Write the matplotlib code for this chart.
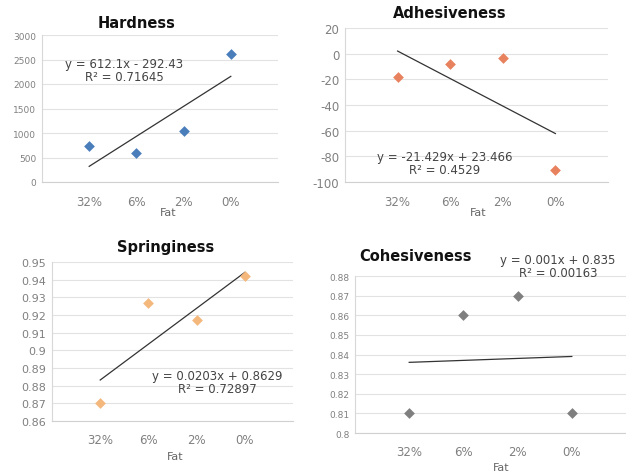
import matplotlib
matplotlib.use("Agg")
import matplotlib.pyplot as plt
import numpy as np

categories = ["32%", "6%", "2%", "0%"]
x_pos = [1, 2, 3, 4]

hardness = [730, 590, 1050, 2620]
adhesiveness = [-18, -8, -3, -91]
springiness = [0.870, 0.927, 0.917, 0.942]
cohesiveness = [0.81, 0.86, 0.87, 0.81]

hard_fit = (612.1, -292.43)
adh_fit = (-21.429, 23.466)
spr_fit = (0.0203, 0.8629)
coh_fit = (0.001, 0.835)

hard_eq = ["y = 612.1x - 292.43", "R² = 0.71645"]
adh_eq = ["y = -21.429x + 23.466", "R² = 0.4529"]
spr_eq = ["y = 0.0203x + 0.8629", "R² = 0.72897"]
coh_eq = ["y = 0.001x + 0.835", "R² = 0.00163"]

plt.rcParams['font.family'] = ['DejaVu Sans']
fig = plt.figure(figsize=(6.26, 4.77), dpi=100)
W, H = 626, 477

def ax_px(l, r, t, b):
    return fig.add_axes([l / W, 1 - b / H, (r - l) / W, (b - t) / H])

def style(ax, ylim, yticks, ylabels, fs_y, color, vals, fit, title, title_xy, eq, eq_xy, fat_xy, tick_fs=8.5):
    ax.set_xlim(0, 5)
    ax.set_ylim(*ylim)
    ax.set_yticks(yticks)
    ax.set_yticklabels(ylabels, fontsize=fs_y, color="#808080")
    ax.set_xticks(x_pos)
    ax.set_xticklabels(categories, fontsize=tick_fs, color="#808080")
    ax.tick_params(axis="x", length=0, pad=9)
    ax.tick_params(axis="y", length=0, pad=4)
    ax.grid(axis="y", color="#e2e2e2", linewidth=0.8)
    ax.set_axisbelow(True)
    for s in ["top", "right"]:
        ax.spines[s].set_visible(False)
    ax.spines["left"].set_color("#d8d8d8")
    ax.spines["bottom"].set_color("#d0d0d0")
    ax.scatter(x_pos, vals, marker="D", s=30, color=color, zorder=3, linewidths=0)
    xs = np.array([x_pos[0], x_pos[-1]])
    ax.plot(xs, fit[0] * xs + fit[1], color="#333333", linewidth=0.9, zorder=2)
    fig.text(title_xy[0] / W, 1 - title_xy[1] / H, title, fontsize=10.5, fontweight="bold",
             ha="center", va="center", color="#111111")
    fig.text(eq_xy[0] / W, 1 - eq_xy[1] / H, eq[0] + "\n" + eq[1], fontsize=8.5,
             ha="center", va="center", color="#444444", linespacing=1.05)
    fig.text(fat_xy[0] / W, 1 - fat_xy[1] / H, "Fat", fontsize=8,
             ha="center", va="center", color="#666666")

ax1 = ax_px(42, 278, 36, 183)
style(ax1, (0, 3000), [0, 500, 1000, 1500, 2000, 2500, 3000],
      ["0", "500", "1000", "1500", "2000", "2500", "3000"], 6.5, "#4a7ebb",
      hardness, hard_fit, "Hardness", (137, 24), hard_eq, (124, 71), (168, 213))

ax2 = ax_px(345, 608, 29, 183)
style(ax2, (-100, 20), [-100, -80, -60, -40, -20, 0, 20],
      ["-100", "-80", "-60", "-40", "-20", "0", "20"], 8.5, "#e8825e",
      adhesiveness, adh_fit, "Adhesiveness", (450, 13), adh_eq, (445, 164), (478, 213))

ax3 = ax_px(52, 293, 263, 422)
style(ax3, (0.86, 0.95), [0.86, 0.87, 0.88, 0.89, 0.90, 0.91, 0.92, 0.93, 0.94, 0.95],
      ["0.86", "0.87", "0.88", "0.89", "0.9", "0.91", "0.92", "0.93", "0.94", "0.95"], 8,
      "#f5b87c", springiness, spr_fit, "Springiness", (166, 248), spr_eq, (217, 383), (175, 457))

ax4 = ax_px(355, 626, 277, 434)
style(ax4, (0.80, 0.88), [0.80, 0.81, 0.82, 0.83, 0.84, 0.85, 0.86, 0.87, 0.88],
      ["0.8", "0.81", "0.82", "0.83", "0.84", "0.85", "0.86", "0.87", "0.88"], 6.5,
      "#7f7f7f", cohesiveness, coh_fit, "Cohesiveness", (416, 257), coh_eq, (558, 267), (501, 468))

fig.savefig("out.png", dpi=100)
